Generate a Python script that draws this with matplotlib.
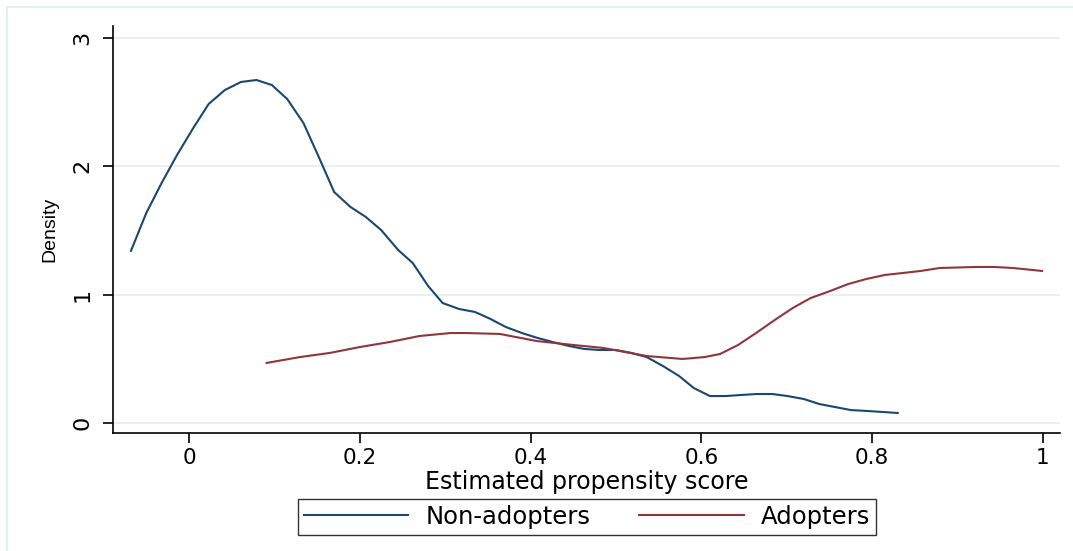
import matplotlib
matplotlib.use("Agg")
import matplotlib.pyplot as plt
from matplotlib.patches import Rectangle

# kernel density of the estimated propensity score
non_adopters_x = [-0.068, -0.050, -0.032, -0.014, 0.005, 0.023, 0.042, 0.061, 0.079, 0.097,
                  0.115, 0.134, 0.152, 0.170, 0.189, 0.207, 0.225, 0.245, 0.262, 0.280,
                  0.297, 0.316, 0.335, 0.353, 0.371, 0.390, 0.408, 0.426, 0.445, 0.463,
                  0.481, 0.500, 0.518, 0.536, 0.555, 0.574, 0.591, 0.610, 0.628, 0.646,
                  0.665, 0.683, 0.701, 0.720, 0.738, 0.756, 0.775, 0.793, 0.812, 0.830]
non_adopters_y = [1.341, 1.637, 1.871, 2.089, 2.299, 2.486, 2.595, 2.658, 2.673, 2.634,
                  2.525, 2.338, 2.073, 1.800, 1.684, 1.606, 1.504, 1.348, 1.247, 1.068,
                  0.935, 0.889, 0.865, 0.811, 0.748, 0.701, 0.663, 0.631, 0.600, 0.577,
                  0.569, 0.569, 0.546, 0.514, 0.444, 0.366, 0.273, 0.210, 0.210, 0.218,
                  0.226, 0.226, 0.210, 0.187, 0.148, 0.125, 0.101, 0.094, 0.086, 0.078]

adopters_x = [0.091, 0.130, 0.165, 0.200, 0.235, 0.270, 0.306, 0.326, 0.364, 0.407,
              0.450, 0.485, 0.536, 0.578, 0.604, 0.622, 0.643, 0.664, 0.686, 0.707,
              0.728, 0.751, 0.772, 0.793, 0.815, 0.836, 0.857, 0.879, 0.922, 0.943,
              0.965, 0.999]
adopters_y = [0.468, 0.514, 0.546, 0.592, 0.631, 0.678, 0.701, 0.701, 0.694, 0.639,
              0.608, 0.585, 0.522, 0.499, 0.514, 0.538, 0.608, 0.701, 0.803, 0.896,
              0.974, 1.029, 1.083, 1.122, 1.154, 1.169, 1.185, 1.208, 1.216, 1.216,
              1.208, 1.185]

x_ticks = [0, 0.2, 0.4, 0.6, 0.8, 1]
x_labels = ["0", "0.2", "0.4", "0.6", "0.8", "1"]
y_ticks = [0, 1, 2, 3]
y_labels = ["0", "1", "2", "3"]

navy = "#1a476f"
maroon = "#90353b"
grid_col = "#e6eef0"

W, H = 1073, 551
fig = plt.figure(figsize=(W / 100, H / 100), dpi=100)
fig.patch.set_facecolor("white")

# light outer frame of the graph region
fig.patches.append(Rectangle((7 / W, -0.05), 1.2, 1.05 - 7 / H, transform=fig.transFigure,
                             fill=False, edgecolor="#e6eef0", lw=1.5))

ax = fig.add_axes([113 / W, 1 - 433 / H, (1060 - 113) / W, (433 - 26) / H])
ax.set_facecolor("white")

ax.plot(non_adopters_x, non_adopters_y, color=navy, lw=1.5, label="Non-adopters")
ax.plot(adopters_x, adopters_y, color=maroon, lw=1.5, label="Adopters")

ax.set_xlim(-0.089, 1.020)
ax.set_ylim(-0.078, 3.094)

for yt in y_ticks:
    ax.axhline(yt, color=grid_col, lw=1.2, zorder=0)

for s in ["top", "right"]:
    ax.spines[s].set_visible(False)
for s in ["left", "bottom"]:
    ax.spines[s].set_color("black")
    ax.spines[s].set_linewidth(1.2)

ax.set_xticks(x_ticks)
ax.set_xticklabels(x_labels, fontsize=15.5)
ax.set_yticks(y_ticks)
ax.set_yticklabels(y_labels, rotation=90, va="center", fontsize=16)
ax.tick_params(axis="both", direction="out", length=7, width=1.2, color="black")
ax.tick_params(axis="x", pad=4)
ax.tick_params(axis="y", pad=8)

ax.set_xlabel("Estimated propensity score", fontsize=17, labelpad=1)
ax.set_ylabel("Density", fontsize=14, family="Liberation Sans", labelpad=10)

leg = fig.legend(loc="center", bbox_to_anchor=(587 / W, 1 - 517 / H), ncol=2,
                 fontsize=17.5, frameon=True, fancybox=False, handlelength=4.3,
                 handletextpad=0.7, columnspacing=2.0, borderpad=0.25)
leg.get_frame().set_edgecolor("black")
leg.get_frame().set_linewidth(1.0)

fig.savefig("out.png", dpi=100, facecolor="white")
